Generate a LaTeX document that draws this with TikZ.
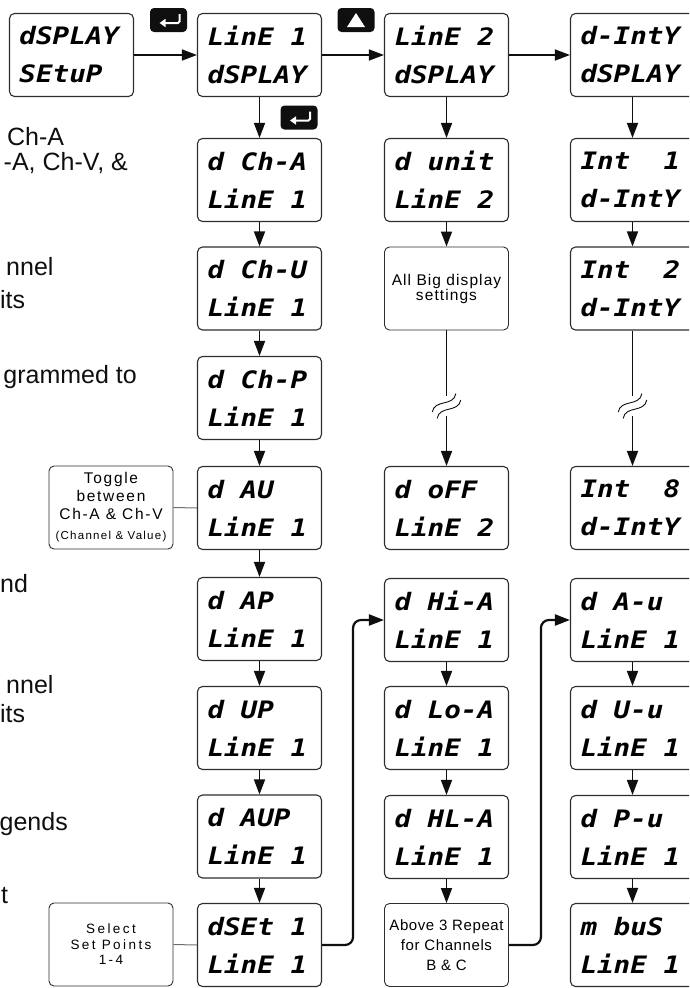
\documentclass[tikz,border=0pt]{standalone}
\usepackage{fontspec}
\setmainfont{Liberation Sans}
\newfontfamily\segfont[FakeStretch=1.15]{DejaVu Sans Mono Bold Oblique}
\usetikzlibrary{calc,arrows.meta}
\definecolor{frameGray}{RGB}{45,45,45}
\definecolor{tieGray}{RGB}{110,110,110}
\definecolor{inkBlack}{RGB}{15,15,15}
\newcommand{\Blank}{\hspace*{16.6pt}}
\tikzset{
  lcd/.style={draw=frameGray,line width=1.1pt,rounded corners=5pt,minimum width=124pt,minimum height=83pt,text width=104pt,inner xsep=10pt,align=left,font=\segfont\fontsize{24}{38}\selectfont},
  note/.style={draw=frameGray,line width=0.9pt,rounded corners=5pt,minimum width=124pt,minimum height=83pt,inner sep=2pt,align=center},
  flow/.style={draw=inkBlack,line width=1.6pt,-{Triangle[length=15pt,width=11pt]}},
  backflow/.style={flow,line width=2.2pt,rounded corners=8pt},
  plainline/.style={draw=inkBlack,line width=1.6pt},
  tie/.style={draw=tieGray,line width=1pt},
  wave/.style={draw=inkBlack,line width=0.9pt},
  keycap/.style={fill=inkBlack,rounded corners=4pt,minimum width=37pt,minimum height=24pt,inner sep=0pt},
  legendtxt/.style={text=inkBlack,inner sep=0pt,font=\fontsize{25}{25}\selectfont}
}

\begin{document}
\begin{tikzpicture}[x=1pt,y=-1pt]
\useasboundingbox (0,0) rectangle (689,988);
\clip (0,0) rectangle (689,988);

% cut-off legend on the left
\node[legendtxt,anchor=base west] (lgcha) at (7,145) {Ch-A};
\node[legendtxt,anchor=base east] (lgchv) at (128,170) {-A, Ch-V, \&};
\node[legendtxt,anchor=base west] (lgnnela) at (6,275) {nnel};
\node[legendtxt,anchor=base west] (lgitsa) at (0,308) {its};
\node[legendtxt,anchor=base east] (lggram) at (137,383) {grammed to};
\node[legendtxt,anchor=base west] (lgnd) at (0,592) {nd};
\node[legendtxt,anchor=base west] (lgnnelb) at (6,693) {nnel};
\node[legendtxt,anchor=base west] (lgitsb) at (0,722) {its};
\node[legendtxt,anchor=base east] (lggends) at (68,830) {gends};
\node[legendtxt,anchor=base west] (lgt) at (1,903) {t};

% side notes
\node[note,font=\fontsize{15.5}{18}\selectfont\addfontfeature{LetterSpace=11}] (toggle) at (111,507.5)
  {Toggle\\between\\Ch-A \& Ch-V\\[2pt]{\fontsize{11.5}{13}\selectfont(Channel \& Value)}};
\node[note,font=\fontsize{13.5}{15.5}\selectfont\addfontfeature{LetterSpace=18}] (selpts) at (111,944.5)
  {Select\\Set Points\\1-4};

% main column
\node[lcd] (dispsetup) at (71.5,55) {dSPLAY\\SEtuP};
\node[lcd] (line1) at (259.5,55) {LinE\Blank 1\\dSPLAY};
\node[lcd] (dcha) at (259.5,180) {d\Blank Ch-A\\LinE\Blank 1};
\node[lcd] (dchu) at (259.5,288.5) {d\Blank Ch-U\\LinE\Blank 1};
\node[lcd] (dchp) at (259.5,398) {d\Blank Ch-P\\LinE\Blank 1};
\node[lcd] (dau) at (259.5,508) {d\Blank AU\\LinE\Blank 1};
\node[lcd] (dap) at (259.5,619) {d\Blank AP\\LinE\Blank 1};
\node[lcd] (dup) at (259.5,728) {d\Blank UP\\LinE\Blank 1};
\node[lcd] (daup) at (259.5,836.5) {d\Blank AUP\\LinE\Blank 1};
\node[lcd] (dset) at (259.5,945) {dSEt\Blank 1\\LinE\Blank 1};

% line 2 column
\node[lcd] (line2) at (446.5,55) {LinE\Blank 2\\dSPLAY};
\node[lcd] (dunit) at (446.5,180) {d\Blank unit\\LinE\Blank 2};
\node[note,font=\fontsize{15.5}{15}\selectfont\addfontfeature{LetterSpace=7}] (bigset) at (446.5,288.5) {All Big display\\settings};
\node[lcd] (doff) at (446.5,508) {d\Blank oFF\\LinE\Blank 2};
\node[lcd] (dhia) at (446.5,620) {d\Blank Hi-A\\LinE\Blank 1};
\node[lcd] (dloa) at (446.5,728) {d\Blank Lo-A\\LinE\Blank 1};
\node[lcd] (dhla) at (446.5,837) {d\Blank HL-A\\LinE\Blank 1};
\node[note,font=\fontsize{15}{20}\selectfont\addfontfeature{LetterSpace=4}] (reptxt) at (446.5,945) {Above 3 Repeat\\for Channels\\B \& C};

% intensity column
\node[lcd] (dinty) at (632.5,55) {d-IntY\\dSPLAY};
\node[lcd] (int1) at (632.5,180) {Int\Blank\Blank 1\\d-IntY};
\node[lcd] (int2) at (632.5,288.5) {Int\Blank\Blank 2\\d-IntY};
\node[lcd] (int8) at (632.5,508) {Int\Blank\Blank 8\\d-IntY};
\node[lcd] (dau2) at (632.5,620) {d\Blank A-u\\LinE\Blank 1};
\node[lcd] (dvu) at (632.5,728) {d\Blank U-u\\LinE\Blank 1};
\node[lcd] (dpu) at (632.5,837) {d\Blank P-u\\LinE\Blank 1};
\node[lcd] (mbus) at (632.5,945) {m\Blank buS\\LinE\Blank 1};

% keys
\node[keycap] (enter1) at (168.5,20) {};
\draw[white,line width=2pt,rounded corners=1.5pt,-{Triangle[length=6pt,width=8pt]}] ($(enter1)+(11,-6)$) -- ++(0,9) -- ++(-20,0);
\node[keycap] (upkey) at (356,20) {};
\fill[white] ($(upkey)+(0,-7)$) -- ($(upkey)+(9,7)$) -- ($(upkey)+(-9,7)$) -- cycle;
\node[keycap] (enter2) at (299,117.5) {};
\draw[white,line width=2pt,rounded corners=1.5pt,-{Triangle[length=6pt,width=8pt]}] ($(enter2)+(11,-6)$) -- ++(0,9) -- ++(-20,0);

% connectors
\draw[flow] (dispsetup) -- (line1);
\draw[flow] (line1) -- (line2);
\draw[flow] (line2) -- (dinty);
\foreach \a/\b in {line1/dcha,dcha/dchu,dchu/dchp,dchp/dau,dau/dap,dap/dup,dup/daup,daup/dset,
                   line2/dunit,dunit/bigset,dhia/dloa,dloa/dhla,dhla/reptxt,
                   dinty/int1,int1/int2,dau2/dvu,dvu/dpu,dpu/mbus}
  \draw[flow] (\a) -- (\b);

% broken runs
\coordinate (gapa) at (446.5,406);
\coordinate (gapatop) at (446.5,396);
\coordinate (gapabot) at (446.5,416);
\draw[plainline] (bigset) -- (gapatop);
\draw[flow] (gapabot) -- (doff);
\coordinate (gapb) at (632.5,406);
\coordinate (gapbtop) at (632.5,396);
\coordinate (gapbbot) at (632.5,416);
\draw[plainline] (int2) -- (gapbtop);
\draw[flow] (gapbbot) -- (int8);
\foreach \g in {gapa,gapb}
  \foreach \d in {-4,4}
    \draw[wave,shift={(\g)},rotate=38] (-15,\d) .. controls (-5,\d-9) and (5,\d+9) .. (15,\d);

\draw[backflow] (dset.east) -- ++(31,0) |- (dhia.west);
\draw[backflow] (reptxt.east) -- ++(32,0) |- (dau2.west);
\draw[tie] (toggle.east) -- (dau.west);
\draw[tie] (selpts.east) -- (dset.west);
\end{tikzpicture}
\end{document}
